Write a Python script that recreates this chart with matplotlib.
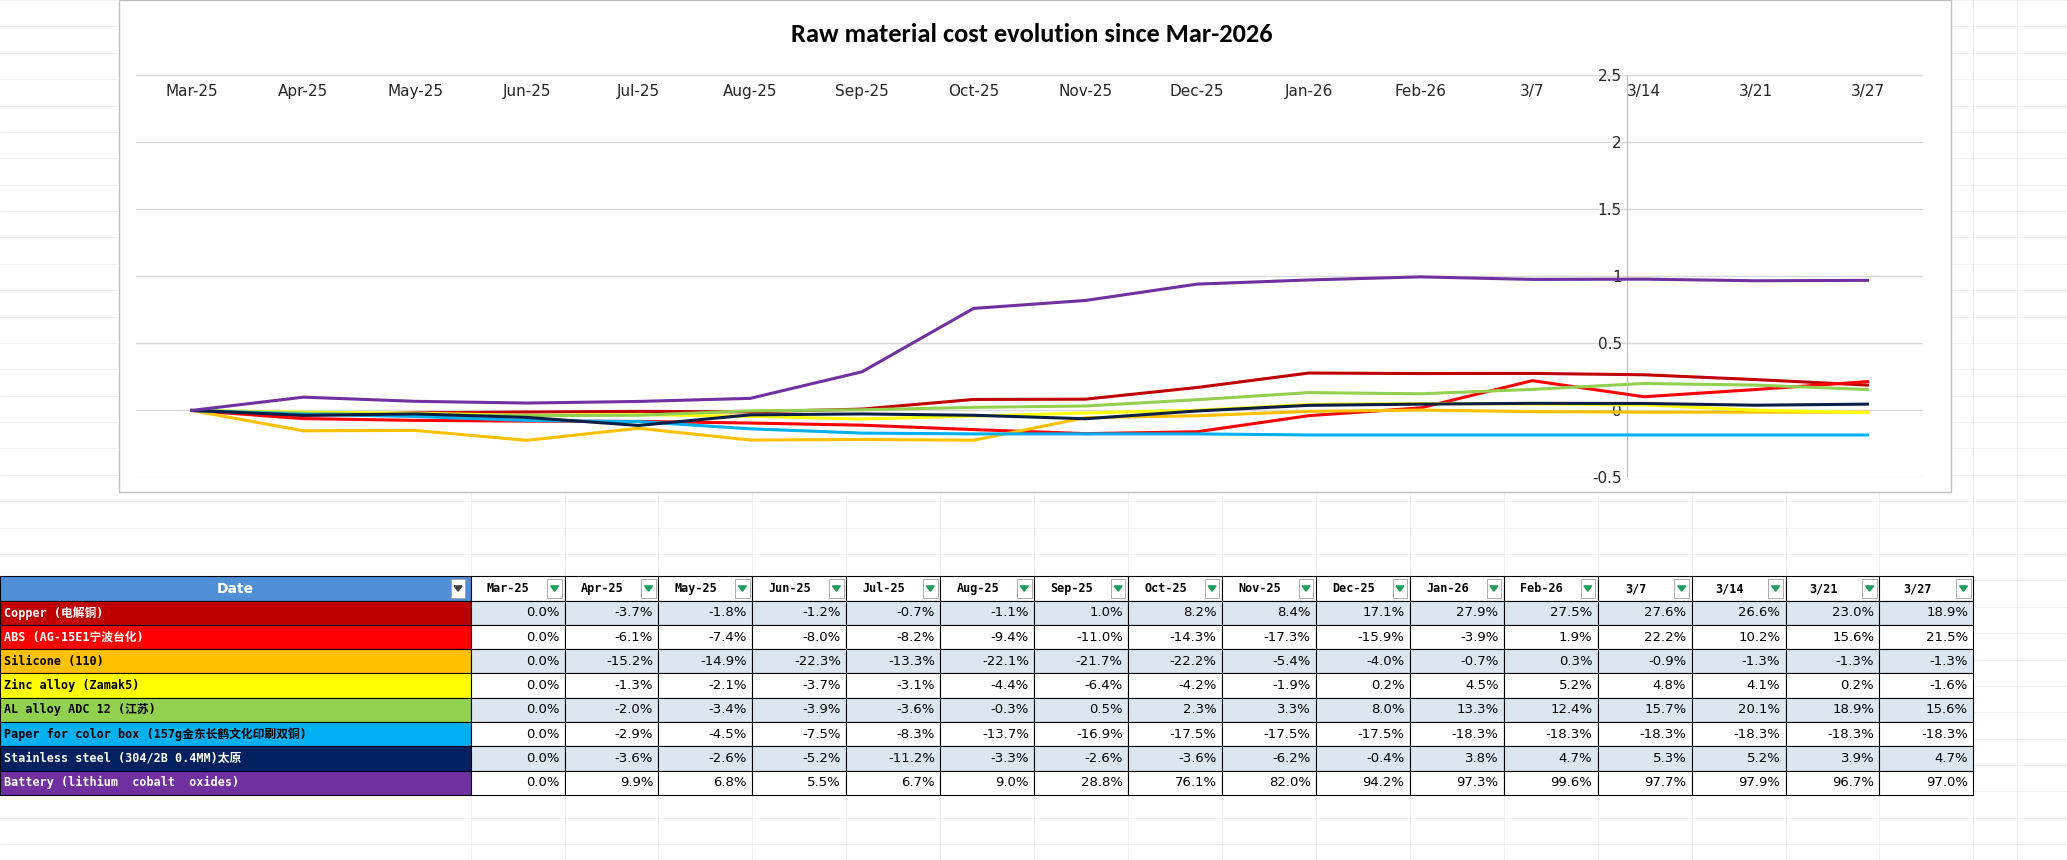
import matplotlib
matplotlib.use("Agg")
import matplotlib.pyplot as plt
from matplotlib.patches import Rectangle, Polygon

periods = ["Mar-25","Apr-25","May-25","Jun-25","Jul-25","Aug-25","Sep-25","Oct-25","Nov-25","Dec-25","Jan-26","Feb-26","3/7","3/14","3/21","3/27"]
names = ["Copper (电解铜)","ABS (AG-15E1宁波台化)","Silicone (110)","Zinc alloy (Zamak5)","AL alloy ADC 12 (江苏)","Paper for color box (157g金东长鹤文化印刷双铜)","Stainless steel (304/2B 0.4MM)太原","Battery (lithium  cobalt  oxides)"]
copper = [0.0,-3.7,-1.8,-1.2,-0.7,-1.1,1.0,8.2,8.4,17.1,27.9,27.5,27.6,26.6,23.0,18.9]
abs_ = [0.0,-6.1,-7.4,-8.0,-8.2,-9.4,-11.0,-14.3,-17.3,-15.9,-3.9,1.9,22.2,10.2,15.6,21.5]
silicone = [0.0,-15.2,-14.9,-22.3,-13.3,-22.1,-21.7,-22.2,-5.4,-4.0,-0.7,0.3,-0.9,-1.3,-1.3,-1.3]
zinc = [0.0,-1.3,-2.1,-3.7,-3.1,-4.4,-6.4,-4.2,-1.9,0.2,4.5,5.2,4.8,4.1,0.2,-1.6]
al = [0.0,-2.0,-3.4,-3.9,-3.6,-0.3,0.5,2.3,3.3,8.0,13.3,12.4,15.7,20.1,18.9,15.6]
paper = [0.0,-2.9,-4.5,-7.5,-8.3,-13.7,-16.9,-17.5,-17.5,-17.5,-18.3,-18.3,-18.3,-18.3,-18.3,-18.3]
steel = [0.0,-3.6,-2.6,-5.2,-11.2,-3.3,-2.6,-3.6,-6.2,-0.4,3.8,4.7,5.3,5.2,3.9,4.7]
battery = [0.0,9.9,6.8,5.5,6.7,9.0,28.8,76.1,82.0,94.2,97.3,99.6,97.7,97.9,96.7,97.0]
series = [copper, abs_, silicone, zinc, al, paper, steel, battery]
colors = ["#C00000","#FF0000","#FFC000","#FFFF00","#92D050","#00B0F0","#0A1E46","#7030A0"]
txtcol = ["white","white","black","black","black","black","white","white"]

plt.rcParams['font.family'] = ['DejaVu Sans', 'Noto Sans CJK SC']
fig = plt.figure(figsize=(20.67, 8.60), dpi=100)
W, H = 1568, 652

frame = fig.add_axes([0, 0, 1, 1], zorder=0)
frame.set_xlim(0, W); frame.set_ylim(H, 0); frame.axis("off")
for yy in range(0, H, 20):
    frame.axhline(yy, color="#EFEFEF", lw=0.6, zorder=0)
for xx in [357 + 71.25 * i for i in range(17)] + [1530]:
    frame.axvline(xx, color="#EFEFEF", lw=0.6, zorder=0)
frame.add_patch(Rectangle((90, 0), 1390, 373, facecolor="white", edgecolor="#BFBFBF", lw=1, zorder=1))
frame.text(783, 26, "Raw material cost evolution since Mar-2026", ha="center", va="center",
           fontsize=19, fontweight="bold", family=["Carlito", "Liberation Sans", "DejaVu Sans"], zorder=2)

ax = fig.add_axes([103/W, 1-362/H, (1459-103)/W, (362-57)/H], zorder=3)
ax.patch.set_alpha(0)
x = list(range(len(periods)))
for s, c in zip(series, colors):
    ax.plot(x, [v/100 for v in s], color=c, lw=2.2, zorder=3)
ax.set_xlim(-0.5, 15.5); ax.set_ylim(-0.5, 2.5)
ax.set_yticks([-0.5, 0, 0.5, 1, 1.5, 2, 2.5])
ax.set_yticklabels(["-0.5", "0", "0.5", "1", "1.5", "2", "2.5"])
ax.grid(axis="y", color="#D9D9D9", lw=1)
ax.set_axisbelow(True)
for sp in ["top", "right", "bottom"]:
    ax.spines[sp].set_visible(False)
ax.spines["left"].set_position(("data", 12.85))
ax.spines["left"].set_color("#BFBFBF")
ax.tick_params(axis="y", length=0, labelsize=11, colors="#262626", pad=4)
ax.set_xticks(x); ax.set_xticklabels(periods)
ax.xaxis.tick_top()
ax.tick_params(axis="x", length=0, labelsize=11, colors="#262626", pad=-17)

t = fig.add_axes([0, 0, 1, 1], zorder=4)
t.set_xlim(0, W); t.set_ylim(H, 0); t.axis("off")
top, rh, c0, cw = 437, 18.4, 357, 71.25
mono = ["DejaVu Sans Mono", "Noto Sans CJK SC"]
t.add_patch(Rectangle((0, top), c0, rh, facecolor="#4F8FD5", edgecolor="black", lw=0.8))
t.text(c0/2, top + rh/2, "Date", ha="center", va="center", color="white", fontsize=10, fontweight="bold")
def arrow(xr, yc, dark=False):
    t.add_patch(Rectangle((xr-13, yc-7), 11, 14, facecolor="white", edgecolor="#A0A0A0", lw=0.6))
    t.add_patch(Polygon([(xr-10.5, yc-2), (xr-4.5, yc-2), (xr-7.5, yc+2)], color="#404040" if dark else "#1E9E5A"))
arrow(c0 - 2, top + rh/2, dark=True)
for j, p in enumerate(periods):
    x0 = c0 + cw*j
    t.add_patch(Rectangle((x0, top), cw, rh, facecolor="white", edgecolor="black", lw=0.8))
    t.text(x0 + cw/2 - 7, top + rh/2, p, ha="center", va="center", fontsize=8.5, fontweight="bold", family=mono)
    arrow(x0 + cw, top + rh/2)
for i, (n, s) in enumerate(zip(names, series)):
    y0 = top + rh*(i+1)
    t.add_patch(Rectangle((0, y0), c0, rh, facecolor=colors[i] if i != 6 else "#002060", edgecolor="black", lw=0.8))
    t.text(3, y0 + rh/2, n, ha="left", va="center", fontsize=8.5, fontweight="bold", color=txtcol[i], family=mono)
    bg = "#DCE6F1" if i % 2 == 0 else "white"
    for j, v in enumerate(s):
        x0 = c0 + cw*j
        t.add_patch(Rectangle((x0, y0), cw, rh, facecolor=bg, edgecolor="black", lw=0.8))
        t.text(x0 + cw - 4, y0 + rh/2, f"{v:.1f}%", ha="right", va="center", fontsize=9.5)

fig.savefig("out.png", dpi=100)
